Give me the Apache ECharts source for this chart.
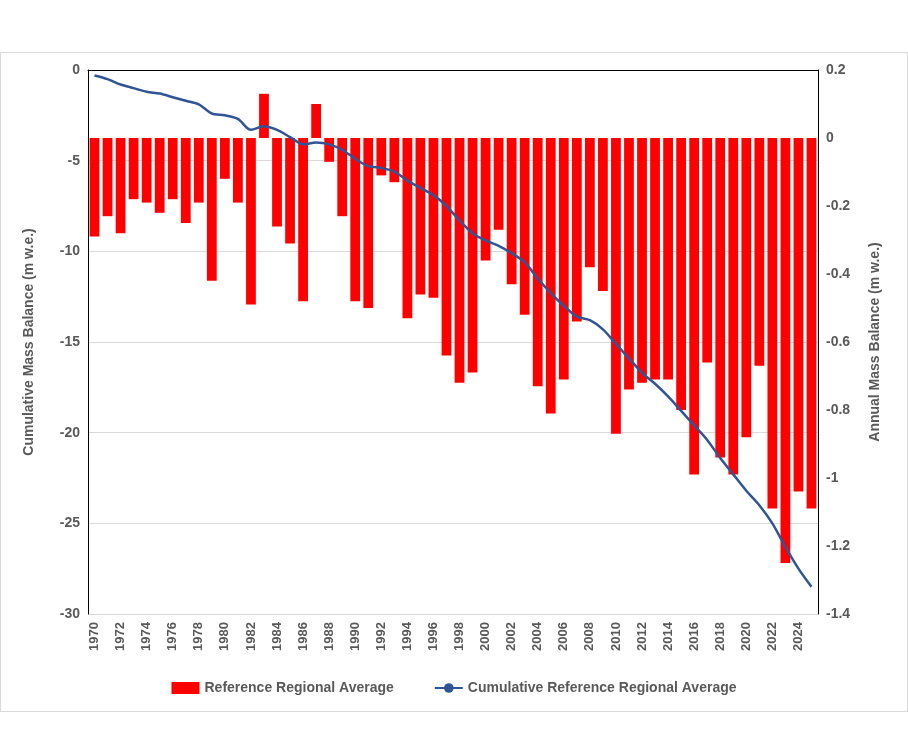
<!DOCTYPE html>
<html>
<head>
<meta charset="utf-8">
<script src="https://cdn.jsdelivr.net/npm/echarts@6/dist/echarts.min.js"></script>
<style>
  body { margin: 0; background: #fff; }
  #frame { position: absolute; left: 0; top: 52px; width: 906px; height: 658px; border: 1px solid #d9d9d9; }
  #chart { position: absolute; left: 0; top: 0; width: 908px; height: 756px; }
</style>
</head>
<body>
<div id="frame"></div>
<div id="chart"></div>
<script>
var years = [];
for (var y = 1970; y <= 2025; y++) years.push(String(y));

// annual mass balance (m w.e.), right axis
var annual = [
  -0.29, -0.23, -0.28, -0.18, -0.19, -0.22, -0.18, -0.25, -0.19, -0.42,
  -0.12, -0.19, -0.49, 0.13, -0.26, -0.31, -0.48, 0.10, -0.07, -0.23,
  -0.48, -0.50, -0.11, -0.13, -0.53, -0.46, -0.47, -0.64, -0.72, -0.69,
  -0.36, -0.27, -0.43, -0.52, -0.73, -0.81, -0.71, -0.54, -0.38, -0.45,
  -0.87, -0.74, -0.72, -0.71, -0.71, -0.80, -0.99, -0.66, -0.94, -0.99,
  -0.88, -0.67, -1.09, -1.25, -1.04, -1.09
];

// cumulative mass balance (m w.e.), left axis
var cumulative = [
  -0.3, -0.5, -0.8, -1.0, -1.2, -1.3, -1.5, -1.7, -1.9, -2.4,
  -2.5, -2.7, -3.3, -3.1, -3.3, -3.7, -4.1, -4.0, -4.1, -4.4,
  -4.9, -5.3, -5.4, -5.6, -6.1, -6.5, -6.9, -7.5, -8.3, -9.0,
  -9.4, -9.7, -10.1, -10.6, -11.5, -12.3, -13.0, -13.6, -13.8, -14.3,
  -15.1, -15.9, -16.7, -17.3, -18.0, -18.8, -19.6, -20.4, -21.4, -22.3,
  -23.2, -24.0, -25.0, -26.3, -27.5, -28.5
];

var txt = '#595959';
var font = 'Liberation Sans';
var chart = echarts.init(document.getElementById('chart'));
chart.setOption({
  animation: false,
  textStyle: { fontFamily: font },
  grid: { left: 88, right: 90, top: 70, bottom: 142 },
  legend: {
    bottom: 56, itemGap: 40, itemWidth: 28, itemHeight: 12,
    textStyle: { color: txt, fontSize: 14, fontWeight: 'bold', fontFamily: font },
    data: [
      { name: 'Reference Regional Average', icon: 'rect' },
      { name: 'Cumulative Reference Regional Average' }
    ]
  },
  xAxis: {
    type: 'category', data: years, boundaryGap: true,
    axisLine: { lineStyle: { color: '#000' } },
    axisTick: { show: false },
    axisLabel: { interval: 1, rotate: 90, color: txt, fontSize: 13, fontWeight: 'bold', margin: 8 }
  },
  yAxis: [
    {
      type: 'value', min: -30, max: 0, interval: 5,
      name: 'Cumulative Mass Balance (m w.e.)', nameLocation: 'middle', nameGap: 52,
      nameTextStyle: { color: txt, fontSize: 14, fontWeight: 'bold' },
      axisLine: { show: true, lineStyle: { color: '#000' } },
      axisTick: { show: false },
      axisLabel: { color: txt, fontSize: 14, fontWeight: 'bold' },
      splitLine: { lineStyle: { color: '#d9d9d9' } }
    },
    {
      type: 'value', min: -1.4, max: 0.2, interval: 0.2,
      name: 'Annual Mass Balance (m w.e.)', nameLocation: 'middle', nameGap: 50, nameRotate: 90,
      nameTextStyle: { color: txt, fontSize: 14, fontWeight: 'bold' },
      axisLine: { show: true, lineStyle: { color: '#000' } },
      axisTick: { show: false },
      axisLabel: { color: txt, fontSize: 14, fontWeight: 'bold',
        formatter: function (v) { return String(Math.round(v * 10) / 10); } },
      splitLine: { show: false }
    }
  ],
  series: [
    {
      name: 'Reference Regional Average', type: 'bar', yAxisIndex: 1,
      data: annual, barCategoryGap: '25%',
      itemStyle: { color: '#ff0000' }
    },
    {
      name: 'Cumulative Reference Regional Average', type: 'line', yAxisIndex: 0,
      data: cumulative, smooth: 0.3, symbol: 'none',
      lineStyle: { color: '#2f5597', width: 2.5 },
      itemStyle: { color: '#2f5597' }
    }
  ]
});
</script>
</body>
</html>
